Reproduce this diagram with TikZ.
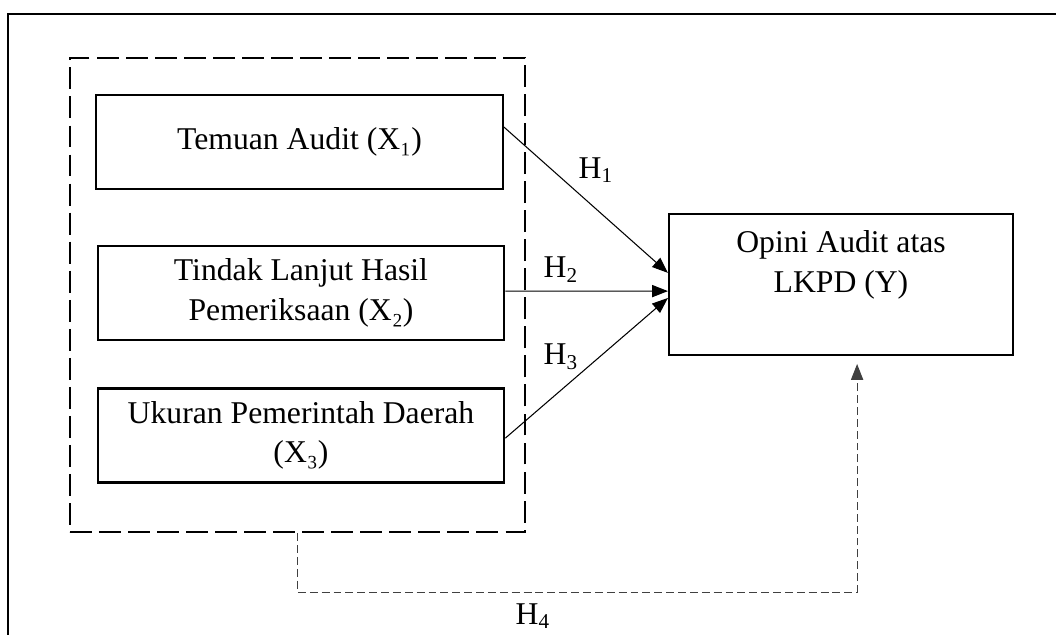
\documentclass[tikz,border=0pt]{standalone}
\usepackage{fontspec}
\setmainfont{Liberation Serif}
\usetikzlibrary{arrows.meta}

\begin{document}
\begin{tikzpicture}[x=0.3788pt,y=-0.3788pt,thick,
  font=\fontsize{12}{15}\selectfont,
  var/.style={draw,line width=0.8pt,minimum width=154pt,minimum height=35.6pt,
    align=center,inner sep=0pt},
  arr/.style={-{Triangle[length=6pt,width=4.6pt]},line width=0.4pt},
  hyp/.style={inner sep=0pt}]
  \useasboundingbox (0,0) rectangle (1056,635);

  %frame
  \draw[line width=0.9pt] (8,700) |- (1100,14);

  %variables
  \node[draw,line width=0.8pt,dash pattern=on 8.3pt off 2.7pt,
    minimum width=172.4pt,minimum height=179.6pt] (grp) at (297.5,295) {};
  \node[var] (x1) at (299.5,142) {Temuan Audit (X₁)};
  \node[var] (x2) at (301,293) {Tindak Lanjut Hasil\\Pemeriksaan (X₂)};
  \node[var] (x3) at (301,435.5) {Ukuran Pemerintah Daerah\\(X₃)};
  \node[var,minimum width=130.3pt,minimum height=53.4pt] (y) at (841,284.5) {};
  \node[align=center,inner sep=0pt] (ytext) at (841,265) {Opini Audit atas\\LKPD (Y)};

  %arrows
  \draw[arr] ([yshift=5.7pt]x1.east) -- ([yshift=4.4pt]y.west);
  \draw[arr] ([yshift=0.7pt]x2.east) -- ([yshift=-2.5pt]y.west);
  \draw[arr] ([yshift=-1pt]x3.east) -- ([yshift=-5.1pt]y.west);
  \draw[arr,draw=black!75,dash pattern=on 3pt off 1.5pt,shorten >=3pt]
    (grp.south) -- ++(0,59) -| ([xshift=6.1pt]y.south);

  %labels
  \node[hyp] (h1) at (596,170) {H\textsubscript{1}};
  \node[hyp] (h2) at (561,270) {H\textsubscript{2}};
  \node[hyp] (h3) at (561,357) {H\textsubscript{3}};
  \node[hyp] (h4) at (533,616) {H\textsubscript{4}};
\end{tikzpicture}
\end{document}
